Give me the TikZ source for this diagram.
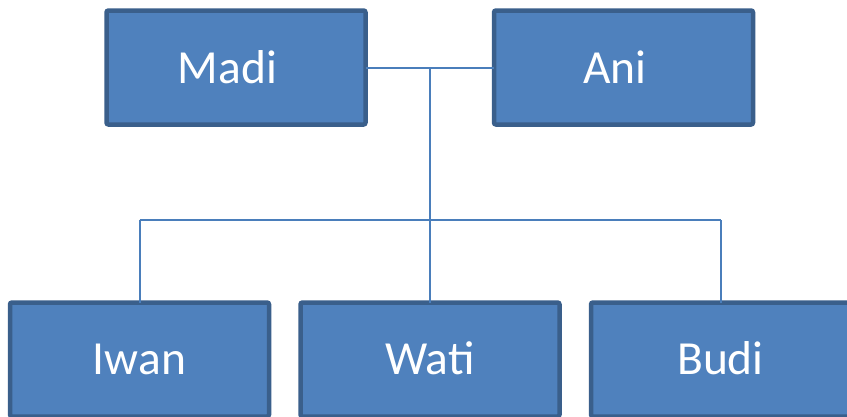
\documentclass[tikz,border=0pt]{standalone}
\usepackage{fontspec}
\setmainfont{Carlito}
\definecolor{boxfill}{HTML}{4F81BD}
\definecolor{boxline}{HTML}{3A5F8B}
\definecolor{conn}{HTML}{4A7EBB}
\begin{document}
\begin{tikzpicture}[x=1pt,y=-1pt,
  person/.style={rectangle, draw=boxline, fill=boxfill, line width=4.5pt,
    rounded corners=2pt, minimum width=259pt, minimum height=114pt,
    inner sep=0pt, outer sep=0pt, text=white, font=\fontsize{47.5}{50}\selectfont},
  link/.style={draw=conn, line width=2pt}]
\clip (0,0) rectangle (847,416);
\fill[white] (0,0) rectangle (847,416);
\node[person] (madi) at (236,67.5) {Madi\kern17pt};
\node[person] (ani) at (623.5,67.5) {Ani\kern17pt};
\node[person] (iwan) at (139.5,359.5) {\raisebox{-3pt}{Iwan}};
\node[person] (wati) at (430,359.5) {\raisebox{2pt}{Wati}};
\node[person] (budi) at (720.5,359.5) {\raisebox{2pt}{Budi}};
\coordinate (top) at (430,68);
\coordinate (left) at (139.5,220);
\coordinate (right) at (720.5,220);
\draw[link] (madi.east) -- (ani.west);
\draw[link] (top) -- (wati.north);
\draw[link] (left) -- (right);
\draw[link] (left) -- (iwan.north);
\draw[link] (right) -- (budi.north);
\end{tikzpicture}
\end{document}
